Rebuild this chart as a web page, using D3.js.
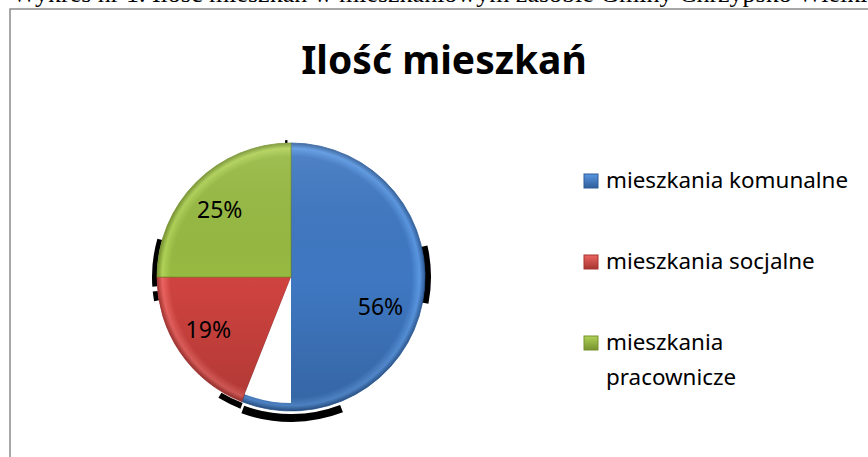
<!DOCTYPE html>
<html lang="pl">
<head>
    <meta charset="UTF-8">
    <script src="https://d3js.org/d3.v7.min.js"></script>
    <title>Ilość mieszkań</title>
    <style>
        body {
            margin: 0;
            background: #fff;
        }
        .legend-label {
            font-family: "Noto Sans", sans-serif;
            font-size: 22.4px;
            fill: #000;
        }
        .pct {
            font-family: "Noto Sans", sans-serif;
            font-size: 23px;
            fill: #000;
        }
    </style>
</head>
<body>
    <svg id="chart" width="868" height="457"></svg>

    <script>
        const categories = ["mieszkania komunalne", "mieszkania socjalne", "mieszkania pracownicze"];
        const shares = [56, 19, 25];
        const labels = ["56%", "19%", "25%"];
        const legendLines = [["mieszkania komunalne"], ["mieszkania socjalne"], ["mieszkania", "pracownicze"]];

        // base / light / dark shade for each slice
        const baseColors = ["#3f78c2", "#d0433f", "#97ba42"];
        const lightColors = ["#5a97e2", "#ec6461", "#b0d257"];
        const darkColors = ["#2f5d99", "#a53431", "#76922f"];

        const svg = d3.select("#chart");
        const width = +svg.attr("width");
        const height = +svg.attr("height");

        // caption of the document, cut off at the top
        svg.append("text")
            .attr("x", 12)
            .attr("y", 2)
            .style("font-family", "'Liberation Serif', serif")
            .style("font-size", "26px")
            .text("Wykres nr 1. Ilość mieszkań w mieszkaniowym zasobie Gminy Chrzypsko Wielkie");

        // chart frame
        svg.append("path")
            .attr("d", `M10,${height} L10,9 L${width},9`)
            .attr("fill", "none")
            .attr("stroke", "#8a8a8a")
            .attr("stroke-width", 1.5);

        svg.append("text")
            .attr("x", 444)
            .attr("y", 74)
            .attr("text-anchor", "middle")
            .style("font-family", "'Noto Sans', sans-serif")
            .style("font-weight", "bold")
            .style("font-size", "39px")
            .text("Ilość mieszkań");

        const cx = 291, cy = 277, r = 134;
        const g = svg.append("g").attr("transform", `translate(${cx},${cy})`);

        const defs = svg.append("defs");
        baseColors.forEach((c, i) => {
            const rg = defs.append("radialGradient")
                .attr("id", "rg" + i)
                .attr("gradientUnits", "userSpaceOnUse")
                .attr("cx", 0).attr("cy", 0).attr("r", r);
            rg.append("stop").attr("offset", "0%").attr("stop-color", c);
            rg.append("stop").attr("offset", "90%").attr("stop-color", c);
            rg.append("stop").attr("offset", "96%").attr("stop-color", lightColors[i]);
            rg.append("stop").attr("offset", "100%").attr("stop-color", darkColors[i]);

            const lg = defs.append("linearGradient")
                .attr("id", "sq" + i)
                .attr("x1", 0).attr("y1", 0).attr("x2", 0).attr("y2", 1);
            lg.append("stop").attr("offset", "0%").attr("stop-color", lightColors[i]);
            lg.append("stop").attr("offset", "100%").attr("stop-color", darkColors[i]);
        });
        const shade = defs.append("linearGradient")
            .attr("id", "shade")
            .attr("gradientUnits", "userSpaceOnUse")
            .attr("x1", 0).attr("y1", -r).attr("x2", 0).attr("y2", r);
        shade.append("stop").attr("offset", "0%").attr("stop-color", "#fff").attr("stop-opacity", 0.1);
        shade.append("stop").attr("offset", "50%").attr("stop-color", "#000").attr("stop-opacity", 0);
        shade.append("stop").attr("offset", "100%").attr("stop-color", "#000").attr("stop-opacity", 0.16);

        const pie = d3.pie().sort(null).value(d => d);
        const arcs = pie(shares);
        const arc = d3.arc().innerRadius(0).outerRadius(r);
        const deg = Math.PI / 180;

        // broken black shadow pieces around the pie (angles in degrees)
        const shadowPieces = [
            [77, 101, 133, 140],
            [260, 264, 134, 139],
            [266, 286, 134, 139],
            [159, 200, 137, 145],
            [201, 211, 135, 141],
            [357.5, 358.5, 134, 137]
        ];
        g.selectAll(".shadow")
            .data(shadowPieces)
            .enter()
            .append("path")
            .attr("class", "shadow")
            .attr("fill", "#000")
            .attr("d", d => d3.arc()({
                startAngle: d[0] * deg, endAngle: d[1] * deg,
                innerRadius: d[2], outerRadius: d[3]
            }));

        g.selectAll(".slice")
            .data(arcs)
            .enter()
            .append("path")
            .attr("class", "slice")
            .attr("d", arc)
            .attr("fill", (d, i) => `url(#rg${i})`)
            .attr("stroke", (d, i) => darkColors[i])
            .attr("stroke-width", 0.8);

        g.selectAll(".slice-shade")
            .data(arcs)
            .enter()
            .append("path")
            .attr("d", arc)
            .attr("fill", "url(#shade)");

        // white gap inside the first slice, past the half turn
        g.append("path")
            .attr("fill", "#fff")
            .attr("d", d3.arc()({
                startAngle: Math.PI, endAngle: arcs[0].endAngle,
                innerRadius: 0, outerRadius: r - 8
            }));

        const labelArc = d3.arc().innerRadius(r * 0.71).outerRadius(r * 0.71);
        g.selectAll(".pct")
            .data(arcs)
            .enter()
            .append("text")
            .attr("class", "pct")
            .attr("text-anchor", "middle")
            .attr("transform", (d, i) => {
                const [x, y] = labelArc.centroid(d);
                // the first label sits a little lower in the original
                return `translate(${x - 4},${y + 8 + (i === 0 ? 12 : 0)})`;
            })
            .text((d, i) => labels[i]);

        const legendY = d3.scalePoint()
            .domain(categories)
            .range([181, 343]);

        const legend = svg.append("g");
        const item = legend.selectAll(".item")
            .data(categories)
            .enter()
            .append("g")
            .attr("class", "item")
            .attr("transform", d => `translate(584,${legendY(d)})`);

        item.append("rect")
            .attr("x", 0)
            .attr("y", -7)
            .attr("width", 14)
            .attr("height", 14)
            .attr("fill", (d, i) => `url(#sq${i})`)
            .attr("stroke", (d, i) => darkColors[i])
            .attr("stroke-width", 1);

        item.append("text")
            .attr("class", "legend-label")
            .attr("x", 22)
            .attr("y", 7)
            .selectAll("tspan")
            .data((d, i) => legendLines[i])
            .enter()
            .append("tspan")
            .attr("x", 22)
            .attr("dy", (d, j) => j === 0 ? 0 : 35)
            .text(d => d);
    </script>
</body>
</html>
